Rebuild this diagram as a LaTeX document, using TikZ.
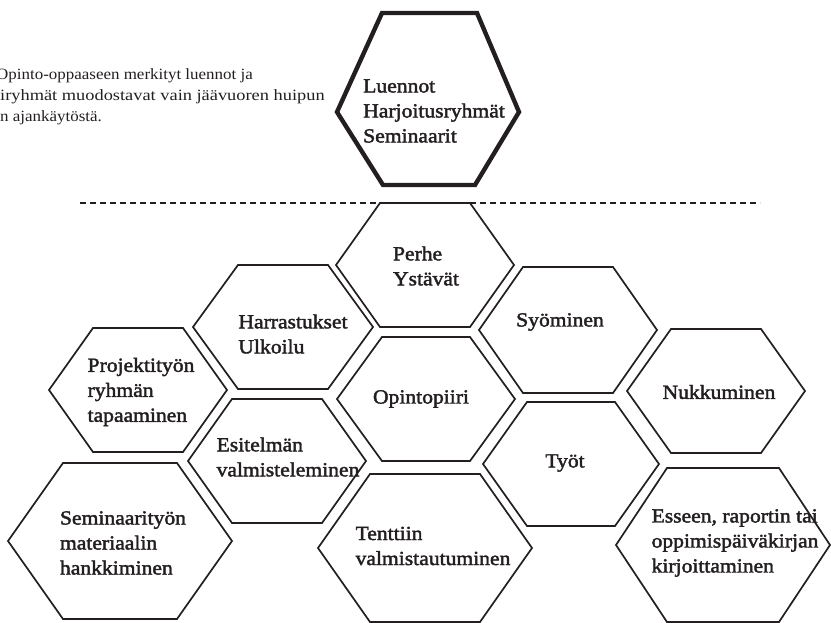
\documentclass[tikz,border=0pt]{standalone}
\usepackage{fontspec}
\setmainfont{Liberation Serif}[FakeStretch=1.08]
\newfontfamily\notewide{Liberation Serif}[FakeStretch=1.17]
\newfontfamily\hexfont{Liberation Serif}[FakeStretch=1.08,FakeBold=2]
\definecolor{ink}{HTML}{231F20}
\newcommand\hexcell[5]{%
  \draw[hexline, shift={(#1,#2)}] (-#3,0) -- (-#4,-#5) -- (#4,-#5) -- (#3,0) -- (#4,#5) -- (-#4,#5) -- cycle;}
\begin{document}
\begin{tikzpicture}[x=1pt,y=-1pt,
  hexline/.style={draw=ink, line width=1.7pt, line join=miter},
  tophex/.style={draw=ink, line width=4.4pt, line join=miter},
  hexlabel/.style={font=\hexfont\fontsize{20}{25}\selectfont, align=left, text=ink, inner sep=0pt},
  notetext/.style={font=\fontsize{15.7}{21}\selectfont, text=ink, inner sep=0pt, anchor=base west},
  dashline/.style={draw=ink, line width=1.3pt, dash pattern=on 6pt off 4pt}]
\useasboundingbox (0,0) rectangle (831,623);

% note text
\node[notetext] (note1) at (-4,80) {Opinto-oppaaseen merkityt luennot ja};
\node[notetext, font=\notewide\fontsize{15.7}{21}\selectfont] (note2) at (0,101) {iryhmät muodostavat vain jäävuoren huipun};
\node[notetext] (note3) at (0,122) {n ajankäytöstä.};

% top hexagon
\draw[tophex] (382,13) -- (477,13) -- (519,112) -- (475,185) -- (383,185) -- (337,112) -- cycle;
\node[hexlabel] (top) at (434,111) {Luennot\\Harjoitusryhmät\\Seminaarit};

% dashed line
\coordinate (dashL) at (80,203);
\coordinate (dashR) at (760,203);
\draw[dashline] (dashL) -- (dashR);

% pyramid
\hexcell{425}{265}{89}{45}{62}
\node[hexlabel] (perhe) at (426,266) {Perhe\\Ystävät};

\hexcell{283}{327}{90}{45}{62}
\node[hexlabel] (harr) at (293,334) {Harrastukset\\Ulkoilu};

\hexcell{568}{330}{89}{45}{63}
\node[hexlabel] (syo) at (560,322) {Syöminen};

\hexcell{138}{390}{89}{45}{62}
\node[hexlabel] (proj) at (141,392) {Projektityön\\ryhmän\\tapaaminen};

\hexcell{426}{399}{89}{44}{62}
\node[hexlabel] (opinto) at (421,399) {Opintopiiri};

\hexcell{716}{391}{89}{45}{62}
\node[hexlabel] (nukku) at (719,392) {Nukkuminen};

\hexcell{277}{461}{89}{45}{62}
\node[hexlabel] (esit) at (288,457) {Esitelmän\\valmisteleminen};

\hexcell{571}{464}{88}{44}{62}
\node[hexlabel] (tyot) at (565,463) {Työt};

\hexcell{120}{541}{112}{57}{78}
\node[hexlabel] (semi) at (123,543) {Seminaarityön\\materiaalin\\hankkiminen};

\hexcell{425}{548}{107}{55}{74}
\node[hexlabel] (tentti) at (433,546) {Tenttiin\\valmistautuminen};

\hexcell{723}{545}{107}{56}{77}
\node[hexlabel] (essee) at (735,543) {Esseen, raportin tai\\oppimispäiväkirjan\\kirjoittaminen};
\end{tikzpicture}
\end{document}
